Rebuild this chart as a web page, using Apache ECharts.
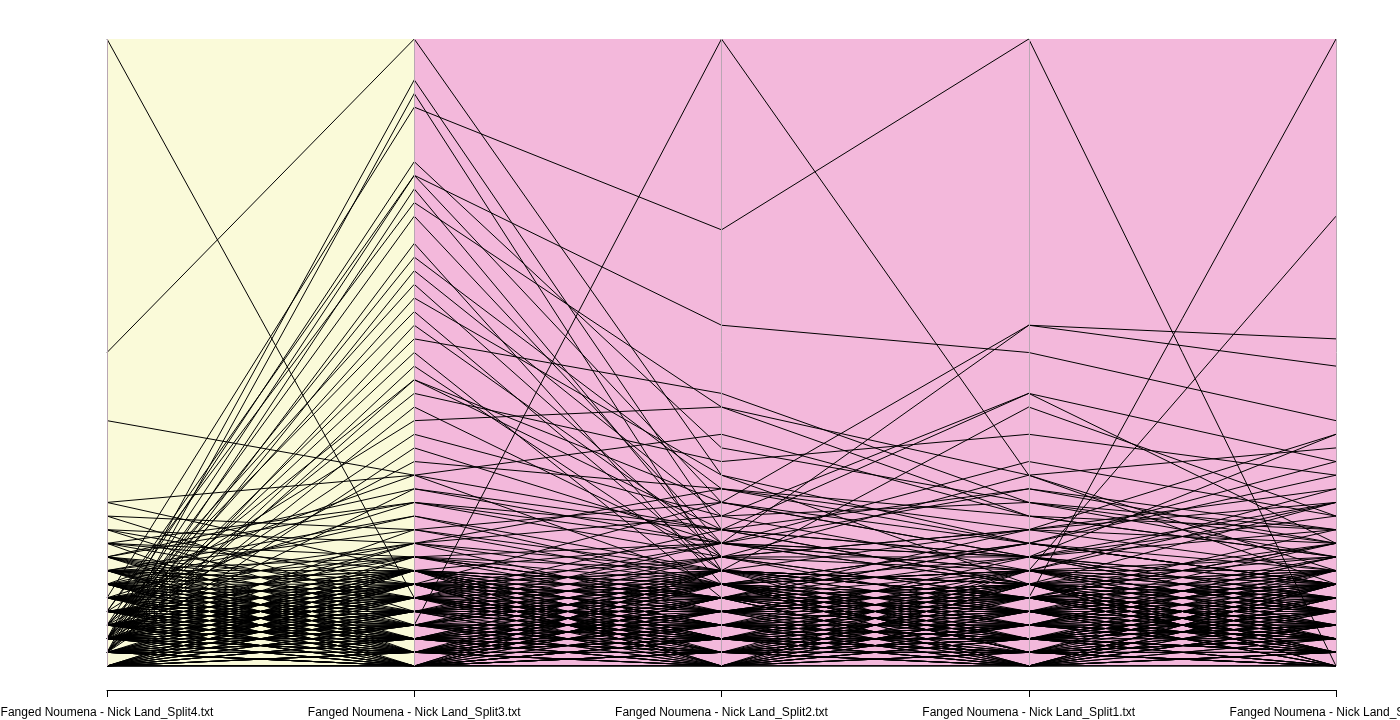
<!DOCTYPE html>
<html><head><meta charset="utf-8">
<script src="https://cdn.jsdelivr.net/npm/echarts@6/dist/echarts.min.js"></script>
<style>html,body{margin:0;padding:0;background:#fff}#c{width:1400px;height:720px}</style>
</head><body><div id="c"></div>
<script>
const categories = ["Fanged Noumena - Nick Land_Split4.txt","Fanged Noumena - Nick Land_Split3.txt","Fanged Noumena - Nick Land_Split2.txt","Fanged Noumena - Nick Land_Split1.txt","Fanged Noumena - Nick Land_Split5.txt"];
const axisMax = 46;
const highRows = [
[46,5,3,4,2],[23,46,14,6,5],[18,14,6,5,4],[2,3,46,14,6],[5,41,32,46,0],
[3,4,5,5,46],[2,5,6,7,33],[4,36,25,23,18],[3,6,12,25,24],[2,7,9,25,22]
];
const midRows = [
[12,14,10,8,6],[2,43,10,8,12],[1,42,7,6,9],[3,37,16,12,10],[2,36,12,9,15],
[1,35,8,14,7],[4,34,19,11,8],[2,30,13,10,17],[1,29,11,20,15],[3,28,8,7,12],
[2,27,14,9,6],[1,25,9,13,10],[2,24,20,12,9],[1,22,7,19,11],[3,21,12,8,17],
[2,20,15,17,14],[1,19,8,10,13],[4,18,19,14,16],[2,17,11,12,8],[1,16,9,15,11],
[3,15,13,9,14],[6,14,17,11,10],[2,13,10,20,9],[9,12,8,10,12],[11,10,7,6,5],
[8,13,9,8,10],[7,11,6,9,7],[10,9,11,7,8],[9,8,5,4,6],[8,12,10,13,9],
[12,7,6,5,4],[7,10,12,8,11],[6,11,7,10,9],[5,12,9,7,13],[6,9,13,11,8],
[2,33,9,6,5],[1,31,6,8,4],[3,26,7,5,9],[2,23,5,9,6],[1,21,10,6,12]
];
const lowRows = [
[7,6,5,4,3],[6,7,4,5,6],[5,4,7,6,5],[4,5,6,7,4],[3,6,5,4,7],[7,3,4,6,5],[6,5,3,7,4],[5,7,6,3,6],
[4,3,7,5,3],[3,4,2,6,7],[2,6,4,3,5],[7,5,2,4,6],[6,2,5,6,3],[5,3,6,2,4],[4,7,3,5,2],[3,2,4,7,6],
[2,4,6,2,3],[1,5,3,4,7],[7,2,6,3,2],[6,4,7,2,5],[5,6,2,5,7],[4,2,5,3,6],[3,7,3,2,4],[2,3,7,6,2],
[1,6,4,5,3],[0,4,5,6,4],[6,3,2,3,7],[5,5,4,2,3],[4,6,3,6,5],[3,3,6,4,2],[2,5,2,7,6],[1,2,7,3,4],
[0,6,3,2,5],[7,4,4,5,2],[6,6,6,3,3],[5,2,3,6,6],[4,4,2,4,4],[3,5,7,5,5],[2,2,3,3,7],[1,7,5,6,2],
[0,3,6,4,6],[5,1,2,2,3],[4,2,1,3,2],[3,1,3,2,1],[2,3,1,1,3],[1,1,2,3,2],[0,2,1,2,1],[3,0,2,1,2],
[2,1,0,2,3],[1,2,3,0,1],[4,3,1,1,0],[2,0,1,3,2],[1,3,2,2,0],[0,1,3,1,2],[3,2,0,3,1],[2,1,2,0,3],
[1,0,1,2,2],[0,2,2,1,0],[1,1,0,1,1],[0,0,1,0,2],[2,2,2,2,1],[1,3,1,2,3],[3,1,1,0,2],[0,1,0,2,1],
[2,0,2,1,0],[1,2,1,1,2],[0,3,2,3,1],[4,1,3,2,2],[3,2,2,1,3],[2,3,3,2,0],[1,1,2,3,3],[0,2,0,1,2],
[5,2,1,3,1],[4,0,2,2,3],[3,3,0,1,2],[2,1,3,3,1],[1,0,2,2,0],[0,1,1,0,3],[2,2,1,3,2],[1,3,3,1,1],
[6,1,2,1,2],[5,3,3,2,1],[4,2,0,3,2],[3,0,1,2,3],[2,4,2,1,2],[1,2,4,2,1],[0,3,1,4,2],[2,1,2,2,4],
[8,4,3,2,5],[7,8,4,6,3],[6,3,8,5,4],[5,8,6,3,8],[4,5,3,8,5],[3,4,5,4,8],[8,6,7,5,4],[7,5,8,8,6],
[6,8,5,7,3],[5,4,4,3,8],[4,8,7,6,7],[3,6,8,4,5],[2,8,5,8,4],[1,4,8,5,6],[8,3,6,4,3],[9,5,4,7,5],
[3,9,6,5,7],[2,5,9,6,4],[1,7,5,9,6],[4,6,4,5,9],[5,9,7,4,6],[6,4,9,8,5],[2,10,6,7,4],[3,5,10,6,8],
[4,7,5,10,7],[1,6,7,5,10],[2,9,4,6,5],[3,4,6,9,6],[1,8,9,7,7],[2,7,4,4,9],[0,5,3,3,4],[1,4,2,5,3],
[0,7,2,1,4],[1,6,0,3,5],[2,0,4,1,6],[3,6,1,4,0],[4,1,5,0,3],[5,0,6,1,2],[6,2,0,4,1],[7,1,3,0,5],
[0,5,1,6,0],[1,0,5,2,6],[2,6,0,5,1],[3,1,6,0,4],[4,5,0,6,2],[5,1,4,0,6],[6,0,5,2,0],[7,6,1,3,2],
[0,4,6,1,5],[1,5,2,6,1],[2,1,6,4,0],[3,5,1,1,6],[4,0,3,5,1],[5,6,0,2,4],[6,1,4,6,0],[7,0,2,1,6],
[0,6,5,0,3],[1,1,4,6,2],[2,5,1,2,6],[3,0,5,6,1],[4,6,2,0,5],[5,2,6,1,0],[6,5,1,5,3],[7,2,5,2,1],
[0,2,4,5,6],[1,4,0,4,2],[2,7,3,0,5],[3,2,7,4,1],[4,7,1,3,7],[5,0,7,5,2],[6,7,2,0,6],[7,1,7,6,0],
[0,7,6,2,1],[1,3,0,7,5],[2,0,7,1,3],[3,7,0,6,2],[4,1,6,7,3],[5,7,3,1,0],[6,0,1,7,4],[7,7,0,2,7],
[0,0,3,4,1],[1,0,0,0,4],[2,4,0,0,1],[3,0,0,4,0],[0,4,4,0,0],[1,0,4,4,5],[2,5,5,0,0],[0,0,5,5,1],
[3,3,3,3,3],[2,2,4,4,2],[4,4,1,1,4],[1,1,5,5,1],[5,5,2,2,5],[0,6,6,0,6],[6,0,0,6,1],[4,3,5,2,4],
[0,1,2,0,1],[0,0,0,1,0],[1,0,0,0,0],[0,1,0,0,1],[0,0,2,1,0],[1,1,1,0,0],[0,0,1,1,1],[1,0,1,0,1],
[8,2,1,5,3],[9,1,3,2,6],[10,3,2,6,4],[8,5,6,1,7],[9,7,2,4,3],[10,6,5,3,2],[11,4,3,5,6],[8,1,4,7,2]
];
const rows = highRows.concat(midRows, lowRows);

const chart = echarts.init(document.getElementById('c'));
const lineSeries = rows.map(r => ({
  type:'line', data:r, symbol:'none', silent:true, animation:false, z:3,
  lineStyle:{color:'#000', width:1}
}));
const bg = {
  type:'line', data:[], silent:true, animation:false, z:1,
  markArea:{silent:true, data:[
    [{xAxis:0, itemStyle:{color:'#FAFAD9'}},{xAxis:1}],
    [{xAxis:1, itemStyle:{color:'#F3B8DB'}},{xAxis:4}]
  ]},
  markLine:{silent:true, symbol:'none', label:{show:false}, lineStyle:{color:'#b9a6b3', type:'solid', width:1},
    data:[{xAxis:0},{xAxis:1},{xAxis:2},{xAxis:3},{xAxis:4}]}
};
chart.setOption({
  animation:false,
  grid:{left:107, right:64, top:39, bottom:54, containLabel:false, outerBoundsMode:'none'},
  xAxis:{type:'category', data:categories, boundaryGap:false, offset:24,
    axisLine:{onZero:false, lineStyle:{color:'#000'}}, axisTick:{show:true, length:7, lineStyle:{color:'#000'}},
    axisLabel:{color:'#000', fontFamily:'Liberation Sans, Arial', fontSize:12, margin:17, interval:0, hideOverlap:false},
    splitLine:{show:false}},
  yAxis:{type:'value', min:0, max:axisMax, show:false},
  series:[bg].concat(lineSeries)
});
</script></body></html>
